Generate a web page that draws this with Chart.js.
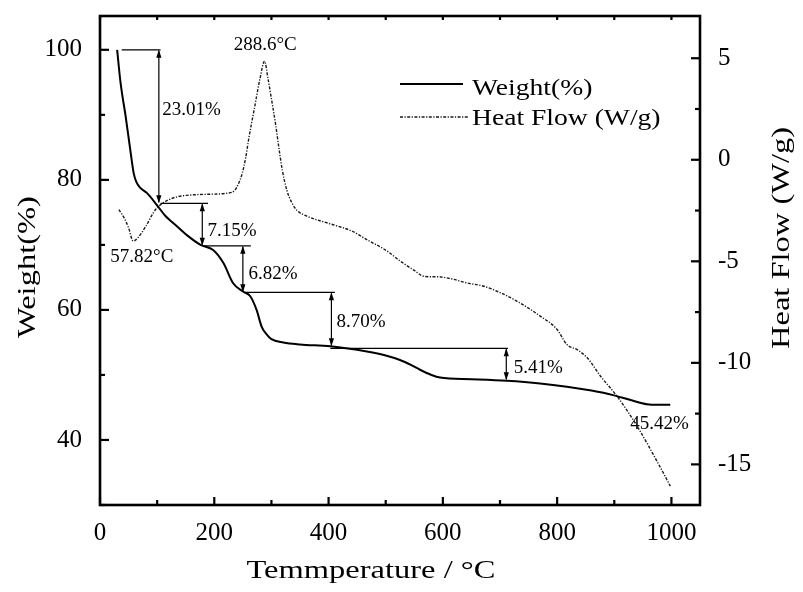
<!DOCTYPE html>
<html><head><meta charset="utf-8">
<script src="https://cdn.jsdelivr.net/npm/chart.js@4/dist/chart.umd.min.js"></script>
<style>html,body{margin:0;padding:0;background:#fff}#wrap{width:803px;height:592px}</style>
</head><body><div id="wrap"><canvas id="c" width="803" height="592"></canvas></div>
<script>
// ---------------- data ----------------
const weightTemp = [30, 36, 45, 53, 59, 64, 70, 82, 99, 115, 129, 152, 176, 198, 216, 233, 251, 263, 274, 283, 292, 300, 321, 350, 403, 467, 500, 525, 545, 560, 580, 595, 650, 712, 770, 817, 860, 898, 930, 957, 975, 998];
const weightVals = [100, 94.9, 89.7, 84.6, 81.0, 79.6, 78.8, 78.0, 76.2, 74.4, 73.3, 71.5, 70.0, 69.2, 67.2, 64.1, 62.8, 62.1, 60.0, 57.4, 56.2, 55.5, 55.0, 54.7, 54.4, 53.6, 53.0, 52.3, 51.5, 50.8, 50.0, 49.6, 49.35, 49.1, 48.7, 48.2, 47.6, 46.9, 46.1, 45.5, 45.4, 45.4];
const heatTemp = [33, 42, 50, 58, 66, 80, 97, 120, 167, 225, 236, 242, 249, 255, 260, 270, 280, 288, 294, 300, 307, 313, 319, 327, 336, 345, 360, 408, 440, 468, 500, 526, 550, 567, 582, 596, 613, 643, 672, 701, 730, 771, 800, 817, 835, 853, 876, 905, 940, 981, 998];
const heatVals = [-2.46, -2.85, -3.35, -4.0, -3.85, -3.28, -2.46, -1.97, -1.72, -1.64, -1.5, -1.2, -0.66, 0.1, 0.98, 2.5, 4.0, 4.85, 4.0, 3.0, 1.8, 0.6, -0.5, -1.5, -2.13, -2.5, -2.75, -3.2, -3.5, -3.95, -4.45, -5.0, -5.45, -5.74, -5.76, -5.77, -5.85, -6.07, -6.23, -6.55, -6.97, -7.71, -8.36, -9.10, -9.35, -9.76, -10.66, -11.65, -13.12, -15.17, -16.07];
const xTicks = [0, 200, 400, 600, 800, 1000];
const leftTicks = [40, 60, 80, 100];
const rightTicks = [-15, -10, -5, 0, 5];
const seriesLabels = ['Weight(%)', 'Heat Flow (W/g)'];
const axisTitles = {x: 'Temmperature / °C', y: 'Weight(%)', y2: 'Heat Flow (W/g)'};

// weight-loss steps (temperature / weight coordinates)
const lossLabels = ['23.01%', '7.15%', '6.82%', '8.70%', '5.41%'];
const lossTop    = [100, 76.4, 69.85, 62.7, 54.1];
const lossBottom = [76.4, 69.85, 62.7, 54.4, 49.2];
const lossLineFrom = [38, 106, 180, 254, 403];
const lossLineTo   = [106, 189, 264, 411, 714];
const lossArrowT   = [103, 179, 250, 405, 711];
const lossLabelT   = [109, 188, 260, 414, 724];
const lossLabelW   = [90.8, 72.2, 65.5, 58.2, 51.0];
const notes = [
  {text: '45.42%', t: 928, w: 42.5},
  {text: '57.82°C', t: 18, w: 68.2},
  {text: '288.6°C', t: 234, w: 100.8}
];

// ---------------- drawing ----------------
const FONT = '"Liberation Serif", "Times New Roman", serif';
function drawText(ctx, text, x, y, o) {
  ctx.save();
  ctx.translate(x, y);
  if (o.rotate) ctx.rotate(o.rotate);
  ctx.scale(o.sx || 1, 1);
  ctx.font = o.size + 'px ' + FONT;
  ctx.textAlign = o.align || 'left';
  ctx.textBaseline = o.baseline || 'alphabetic';
  ctx.fillStyle = '#000';
  ctx.fillText(text, 0, 0);
  ctx.restore();
}
function line(ctx, x1, y1, x2, y2) {
  ctx.beginPath(); ctx.moveTo(x1, y1); ctx.lineTo(x2, y2); ctx.stroke();
}
function arrowHead(ctx, x, y, dir) {
  ctx.beginPath();
  ctx.moveTo(x, y);
  ctx.lineTo(x - 2.6, y - dir * 8);
  ctx.lineTo(x + 2.6, y - dir * 8);
  ctx.closePath(); ctx.fill();
}

const framePlugin = {
  id: 'frame',
  afterDraw(chart) {
    const {ctx, chartArea: {left, right, top, bottom}, scales} = chart;
    const sx = scales.x, sy = scales.y, sy2 = scales.y2;
    ctx.save();
    ctx.strokeStyle = '#000';
    ctx.fillStyle = '#000';
    ctx.lineCap = 'butt';

    // annotations
    ctx.lineWidth = 1.2;
    for (let i = 0; i < lossLabels.length; i++) {
      const yT = sy.getPixelForValue(lossTop[i]);
      const yB = sy.getPixelForValue(lossBottom[i]);
      const xa = sx.getPixelForValue(lossArrowT[i]);
      line(ctx, sx.getPixelForValue(lossLineFrom[i]), yT, sx.getPixelForValue(lossLineTo[i]), yT);
      line(ctx, xa, yT + 1, xa, yB - 1);
      arrowHead(ctx, xa, yT, -1);
      arrowHead(ctx, xa, yB, 1);
      drawText(ctx, lossLabels[i], sx.getPixelForValue(lossLabelT[i]), sy.getPixelForValue(lossLabelW[i]), {size: 19, baseline: 'middle'});
    }
    notes.forEach(n => drawText(ctx, n.text, sx.getPixelForValue(n.t), sy.getPixelForValue(n.w), {size: 19, baseline: 'middle'}));

    // frame
    ctx.lineWidth = 2.6;
    ctx.strokeRect(left, top, right - left, bottom - top);
    ctx.lineWidth = 2.2;
    // x ticks
    for (let i = 0; i < xTicks.length; i++) {
      const vals = [xTicks[i]];
      if (i < xTicks.length - 1) vals.push((xTicks[i] + xTicks[i + 1]) / 2);
      vals.forEach((v, k) => {
        const px = sx.getPixelForValue(v);
        line(ctx, px, bottom, px, bottom - (k === 0 ? 8 : 5));
        line(ctx, px, top, px, top + 4);
      });
    }
    // left ticks
    for (let i = 0; i < leftTicks.length; i++) {
      const py = sy.getPixelForValue(leftTicks[i]);
      line(ctx, left, py, left + 9, py);
      const m = sy.getPixelForValue(leftTicks[i] - 10);
      line(ctx, left, m, left + 5, m);
    }
    // right ticks
    for (let i = 0; i < rightTicks.length; i++) {
      const py = sy2.getPixelForValue(rightTicks[i]);
      line(ctx, right, py, right - 9, py);
      if (i < rightTicks.length - 1) {
        const m = sy2.getPixelForValue((rightTicks[i] + rightTicks[i + 1]) / 2);
        line(ctx, right, m, right - 5, m);
      }
    }

    // axis titles
    drawText(ctx, axisTitles.x, 371, 578, {size: 26, sx: 1.25, align: 'center'});
    drawText(ctx, axisTitles.y, 28, 267, {size: 26, sx: 1.25, align: 'center', baseline: 'middle', rotate: -Math.PI / 2});
    drawText(ctx, axisTitles.y2, 782, 238, {size: 26, sx: 1.25, align: 'center', baseline: 'middle', rotate: -Math.PI / 2});

    // legend
    const ds = chart.data.datasets;
    ctx.lineWidth = ds[0].borderWidth; ctx.strokeStyle = ds[0].borderColor;
    line(ctx, 400, 84, 463, 84);
    ctx.lineWidth = ds[1].borderWidth; ctx.strokeStyle = ds[1].borderColor;
    ctx.setLineDash(ds[1].borderDash);
    line(ctx, 400, 117, 468, 117);
    ctx.setLineDash([]);
    drawText(ctx, ds[0].label, 472, 95, {size: 23, sx: 1.2});
    drawText(ctx, ds[1].label, 472, 125, {size: 23, sx: 1.2});
    ctx.restore();
  }
};

const tickFont = {family: FONT, size: 25};
function noPad(s) { s.paddingTop = 0; s.paddingBottom = 0; s.paddingLeft = 0; s.paddingRight = 0; }
new Chart(document.getElementById('c'), {
  type: 'line',
  data: {
    datasets: [
      {label: seriesLabels[0], data: weightTemp.map((t, i) => ({x: t, y: weightVals[i]})), yAxisID: 'y',
       borderColor: '#000', borderWidth: 2, pointRadius: 0, cubicInterpolationMode: 'monotone', fill: false},
      {label: seriesLabels[1], data: heatTemp.map((t, i) => ({x: t, y: heatVals[i]})), yAxisID: 'y2',
       borderColor: '#1a1a1a', borderWidth: 1.4, borderDash: [3, 1.5, 1.2, 1.5], pointRadius: 0, cubicInterpolationMode: 'monotone', fill: false}
    ]
  },
  options: {
    responsive: false, animation: false, devicePixelRatio: 1,
    layout: {padding: {top: 16, left: 0, right: 0, bottom: 0}},
    plugins: {legend: {display: false}, tooltip: {enabled: false}},
    scales: {
      x: {type: 'linear', min: 0, max: 1050,
          afterBuildTicks: s => { s.ticks = xTicks.map(v => ({value: v})); },
          afterFit: s => { s.height = 87; noPad(s); },
          grid: {display: false}, border: {display: false},
          ticks: {font: tickFont, color: '#000', padding: 5, maxRotation: 0, autoSkip: false, callback: v => String(v)}},
      y: {position: 'left', min: 30, max: 105.2,
          afterBuildTicks: s => { s.ticks = leftTicks.map(v => ({value: v})); },
          afterFit: s => { s.width = 100; noPad(s); },
          grid: {display: false}, border: {display: false},
          ticks: {font: tickFont, color: '#000', padding: 10, autoSkip: false, callback: v => String(v)}},
      y2: {position: 'right', min: -17, max: 7.08,
          afterBuildTicks: s => { s.ticks = rightTicks.map(v => ({value: v})); },
          afterFit: s => { s.width = 103; noPad(s); },
          grid: {display: false}, border: {display: false},
          ticks: {font: tickFont, color: '#000', padding: 10, autoSkip: false, callback: v => String(v)}}
    }
  },
  plugins: [framePlugin]
});
</script></body></html>
